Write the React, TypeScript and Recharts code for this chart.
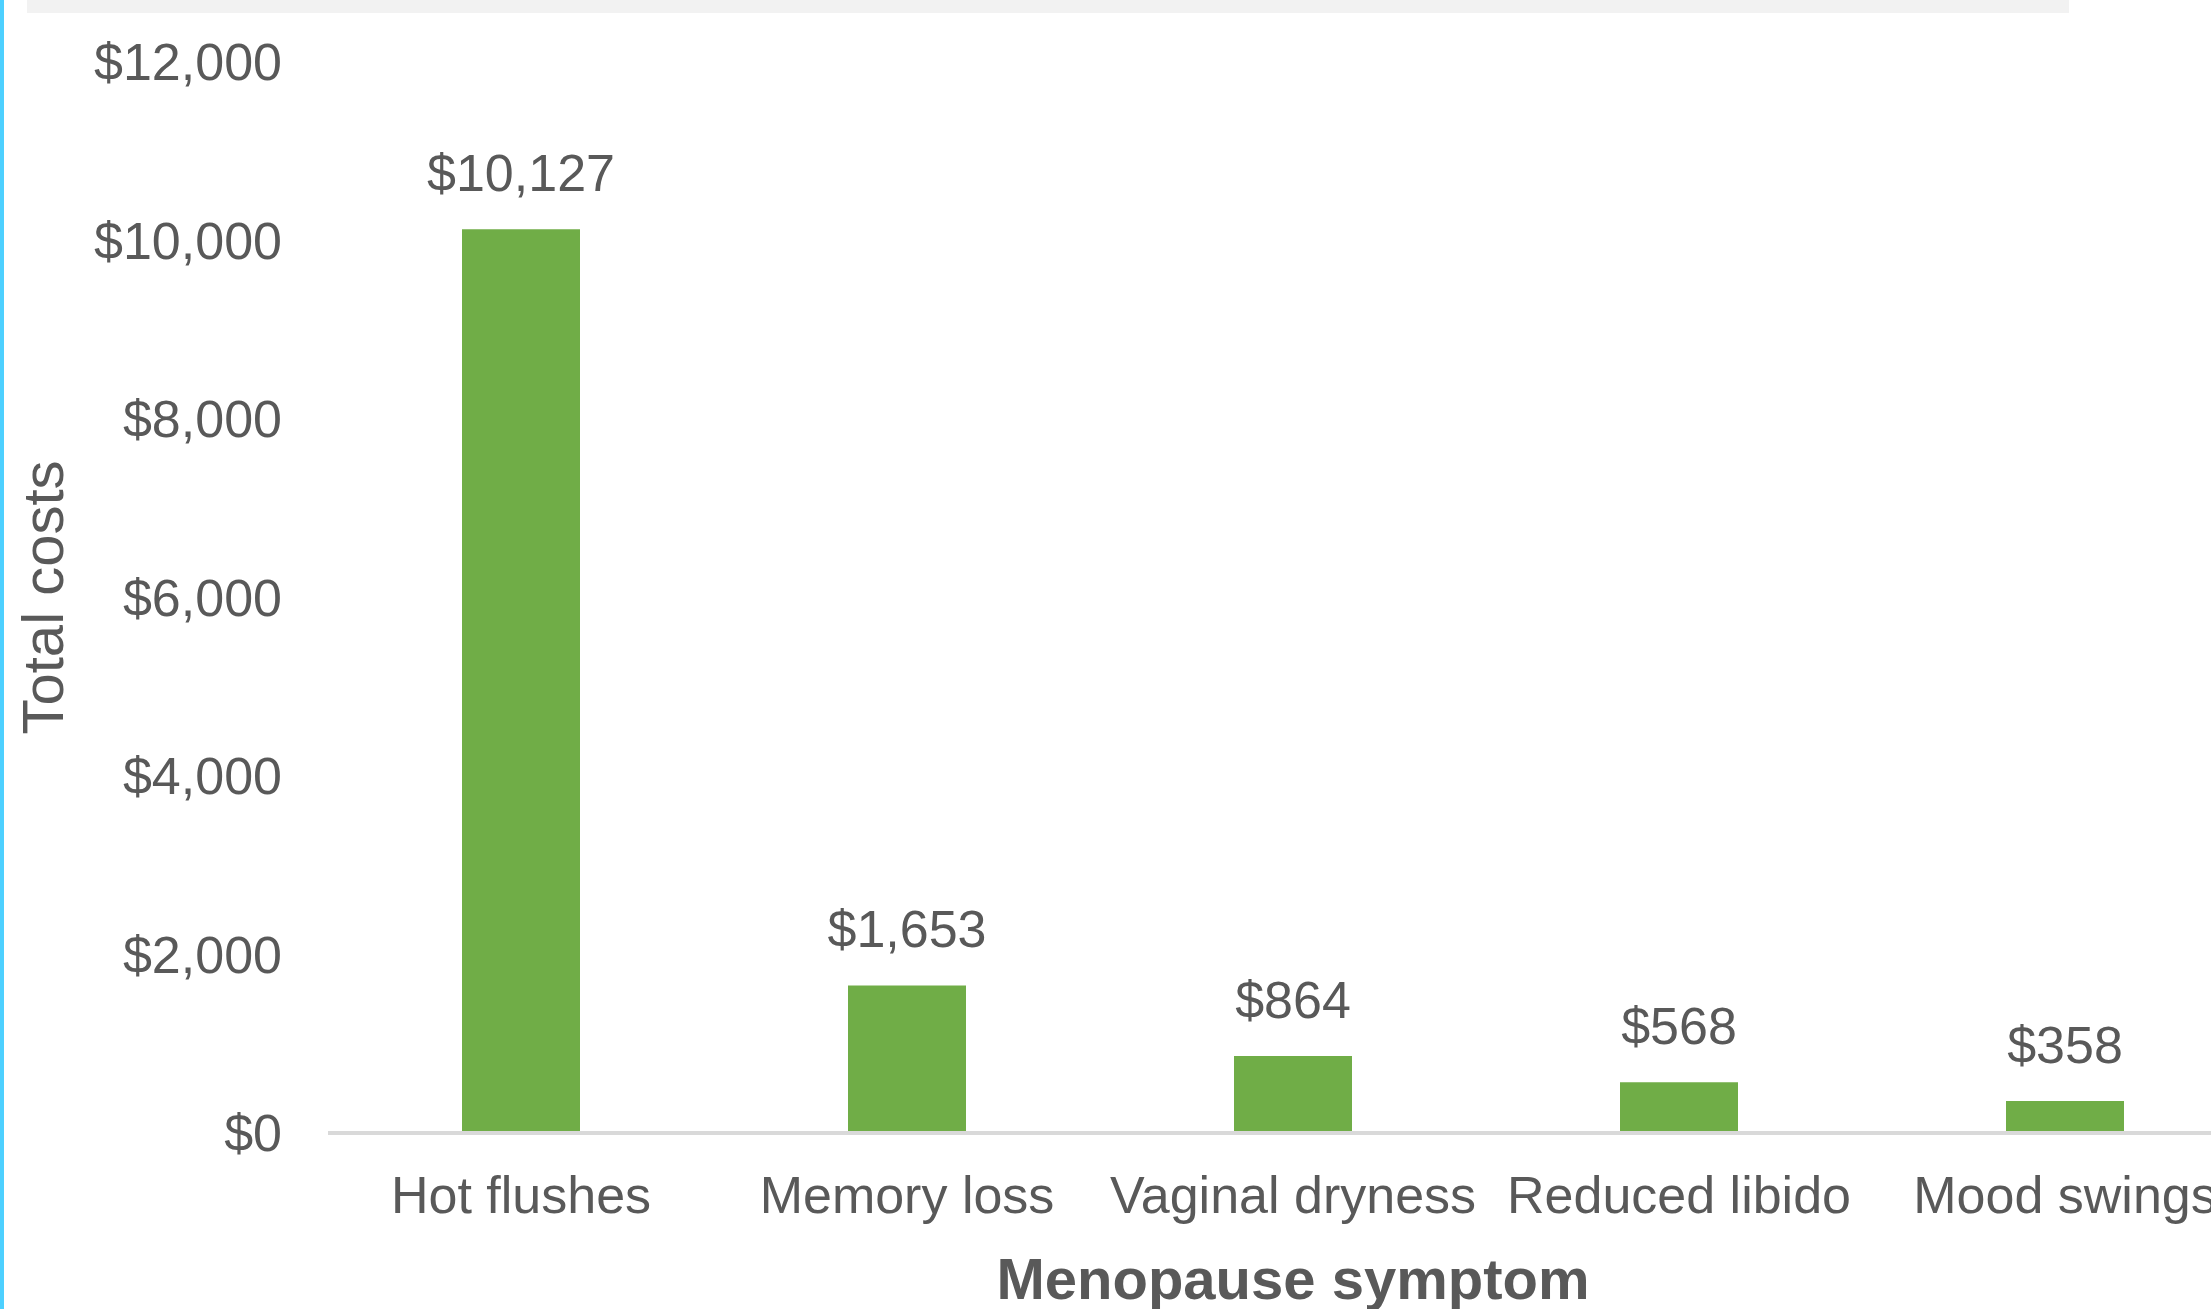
import { BarChart, Bar, XAxis, YAxis, LabelList } from 'recharts';

const symptoms = ['Hot flushes', 'Memory loss', 'Vaginal dryness', 'Reduced libido', 'Mood swings'];
const totalCosts = [10127, 1653, 864, 568, 358];
const yTicks = [0, 2000, 4000, 6000, 8000, 10000, 12000];

const data = symptoms.map((symptom, i) => ({ symptom, cost: totalCosts[i] }));

const FONT = '"Liberation Sans", Arial, sans-serif';
const TEXT = '#595959';

const money = (v: number) => `$${v.toLocaleString('en-US')}`;

export default function App() {
  return (
    <div
      style={{
        position: 'fixed',
        left: 0,
        top: 0,
        width: 2211,
        height: 1309,
        overflow: 'hidden',
        background: '#ffffff',
        fontFamily: FONT,
      }}
    >
      <div style={{ position: 'absolute', left: 0, top: 0, width: 4, height: 1309, background: '#4dd0ff' }} />
      <div style={{ position: 'absolute', left: 27, top: 0, width: 2042, height: 13, background: '#f2f2f2' }} />
      <div style={{ position: 'absolute', left: 0, top: 0 }}>
        <BarChart
          width={2300}
          height={1309}
          data={data}
          margin={{ top: 62, right: 42, bottom: 0, left: 0 }}
        >
          <XAxis
            dataKey="symptom"
            height={176}
            axisLine={{ stroke: '#d9d9d9', strokeWidth: 4 }}
            tickLine={false}
            tickSize={0}
            tickMargin={43}
            interval={0}
            tick={{ fill: TEXT, fontSize: 52, fontFamily: FONT }}
            label={{
              value: 'Menopause symptom',
              position: 'insideBottom',
              offset: 10,
              fill: TEXT,
              fontSize: 58,
              fontWeight: 'bold',
              fontFamily: FONT,
            }}
          />
          <YAxis
            width={328}
            domain={[0, 12000]}
            ticks={yTicks}
            axisLine={false}
            tickLine={false}
            tickSize={0}
            tickMargin={46}
            tickFormatter={money}
            tick={{ fill: TEXT, fontSize: 52, fontFamily: FONT }}
            label={{
              content: ({ viewBox }: any) => {
                const cx = viewBox.x + 42;
                const cy = viewBox.y + viewBox.height / 2;
                return (
                  <text
                    x={cx}
                    y={cy}
                    transform={`rotate(-90, ${cx}, ${cy})`}
                    textAnchor="middle"
                    dominantBaseline="central"
                    fill={TEXT}
                    fontSize={58}
                    fontFamily={FONT}
                  >
                    Total costs
                  </text>
                );
              },
            }}
          />
          <Bar dataKey="cost" fill="#70ad47" barSize={118} isAnimationActive={false}>
            <LabelList
              dataKey="cost"
              position="top"
              offset={38}
              formatter={(v: any) => money(Number(v))}
              fill={TEXT}
              fontSize={52}
              fontFamily={FONT}
            />
          </Bar>
        </BarChart>
      </div>
    </div>
  );
}
